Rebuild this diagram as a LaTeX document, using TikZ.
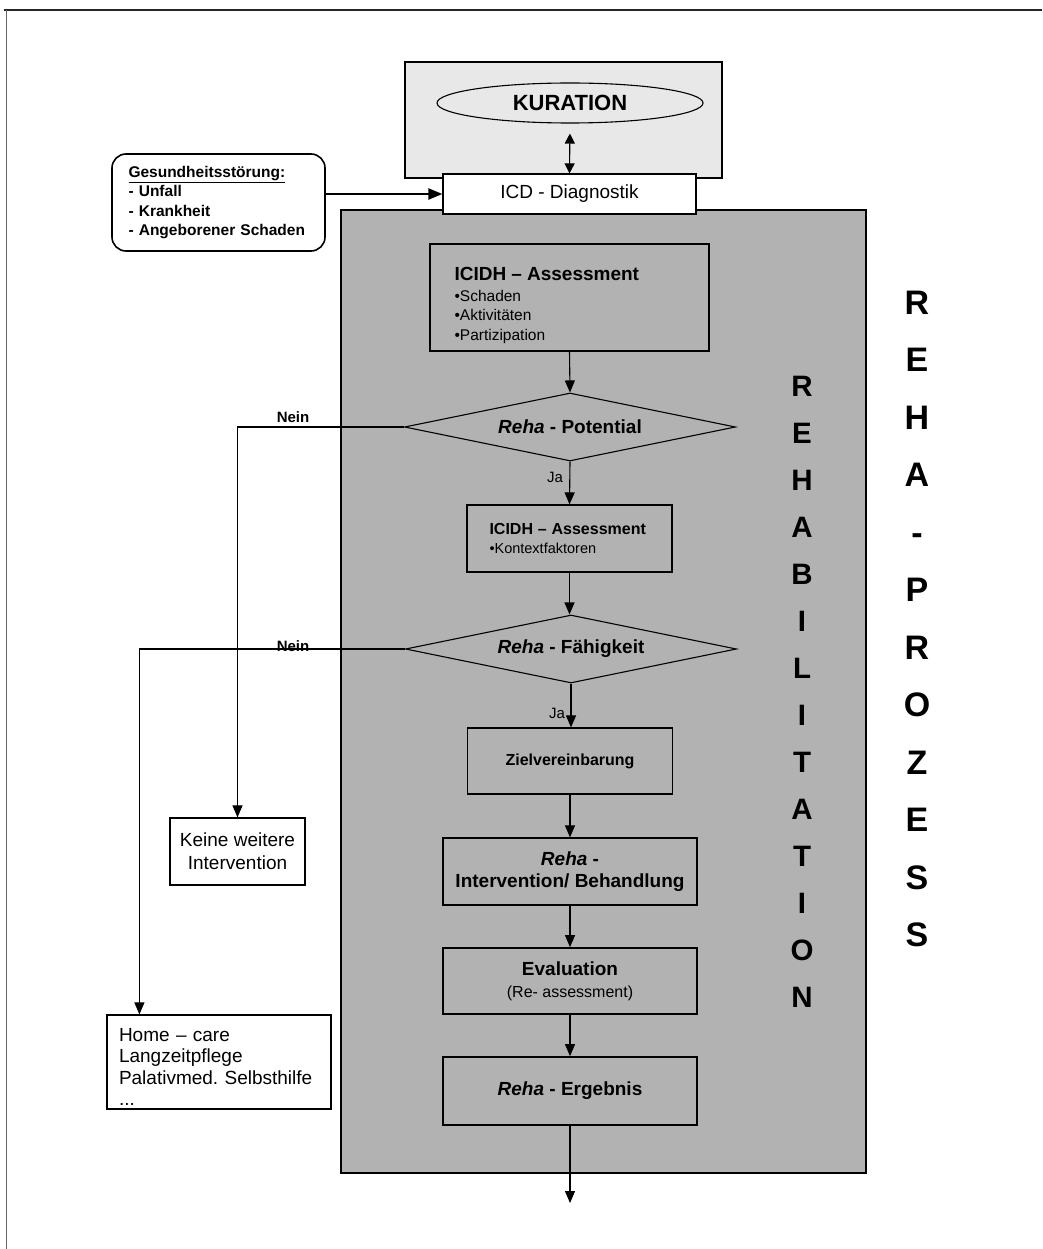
\documentclass[tikz,border=0pt]{standalone}
\usepackage{fontspec}
\setmainfont{Liberation Sans}
\usetikzlibrary{shapes.geometric,arrows.meta}
\definecolor{rehagray}{RGB}{178,178,178}
\definecolor{kurgray}{RGB}{232,232,232}
\newcommand{\fsz}[2]{\fontsize{#1}{#2}\selectfont}
\frenchspacing
\hyphenpenalty=10000
\begin{document}
\begin{tikzpicture}[x=1pt,y=-1pt,
  box/.style={draw, line width=1.2pt, inner sep=0pt, align=center},
  graybox/.style={box, fill=rehagray},
  whitebox/.style={box, fill=white},
  decision/.style={draw, line width=1.1pt, fill=rehagray, shape=diamond, aspect=4.87,
    minimum width=331pt, minimum height=68pt, inner sep=0pt, font=\fsz{19}{22}\bfseries},
  flow/.style={line width=1.1pt, -{Triangle[width=10pt,length=12pt]}},
  lbl/.style={inner sep=0pt, font=\fsz{15}{18}}
]
\useasboundingbox (0,0) rectangle (1042,1249);

% page frame
\draw[line width=1.8pt, black!85] (4,10) -- (1042,10);
\draw[line width=0.9pt, black!60] (6,1249) -- (6,10);

% curative area and rehabilitation area
\draw[line width=1.2pt, fill=kurgray] (405,62) rectangle (722,178);
\draw[line width=1.2pt, fill=rehagray] (341,210) rectangle (866,1173);

% curation
\node[draw, line width=1.1pt, fill=kurgray, ellipse, minimum width=266pt, minimum height=40pt,
      inner sep=0pt, font=\fsz{22}{24}\bfseries] (kur) at (570,103) {KURATION};
\node[whitebox, minimum width=253pt, minimum height=40pt, font=\fsz{19}{22}] (icd) at (569.5,194) {ICD - Diagnostik};

% health disorder
\node[draw, line width=1.6pt, rounded corners=14pt, fill=white, text width=180pt, inner xsep=16.5pt,
      minimum height=97pt, align=left, font=\fsz{15.5}{19.3}\bfseries] (ges) at (218.5,202.5)
  {\underline{Gesundheitsstörung:}\\- Unfall\\- Krankheit\\- Angeborener Schaden};

% main flow
\node[graybox, minimum width=279pt, minimum height=107pt, text width=230pt, align=left,
      font=\fsz{15.5}{19.7}] (a1) at (569.5,297.5)
  {\rule{0pt}{29pt}{\fsz{19}{20}\bfseries ICIDH – Assessment}\\[1.3pt]•Schaden\\•Aktivitäten\\•Partizipation};
\node[decision] (d1) at (570,427) {\textit{Reha} - Potential};
\node[graybox, minimum width=205pt, minimum height=67pt, text width=160pt, align=left,
      font=\fsz{14.5}{19}] (a2) at (569.5,538.5)
  {{\fsz{16}{18}\bfseries ICIDH – Assessment}\\•Kontextfaktoren};
\node[decision] (d2) at (571,649) {\textit{Reha} - Fähigkeit};
\node[graybox, minimum width=205pt, minimum height=66pt, font=\fsz{16}{18}\bfseries] (ziel) at (570,761) {Zielvereinbarung};
\node[graybox, minimum width=254pt, minimum height=67pt, font=\fsz{19}{22.5}\bfseries] (inter) at (570,871.5)
  {\textit{Reha} -\\Intervention/ Behandlung};
\node[graybox, line width=1.7pt, minimum width=254pt, minimum height=66pt, font=\fsz{19}{22}\bfseries] (eval) at (570,981)
  {Evaluation\\{\fsz{16}{18}\mdseries (Re- assessment)}};
\node[graybox, line width=1.7pt, minimum width=254pt, minimum height=68pt, font=\fsz{19}{22}\bfseries] (erg) at (570,1091)
  {\textit{Reha} - Ergebnis};
\coordinate (out) at (570,1203);

% side outcomes
\node[whitebox, minimum width=135pt, minimum height=67pt, font=\fsz{19}{23}] (keine) at (237.5,851.5)
  {Keine weitere\\Intervention};
\node[whitebox, minimum width=224pt, minimum height=94pt, align=left, text width=200pt,
      font=\fsz{19}{21.3}] (home) at (219,1062)
  {\rule{0pt}{23pt}Home – care\\Langzeitpflege\\Palativmed. Selbsthilfe\\...};

% labels
\node[lbl, font=\fsz{15}{18}\bfseries] (nein1) at (293,417) {Nein};
\node[lbl, font=\fsz{15}{18}\bfseries] (nein2) at (293,646) {Nein};
\node[lbl] (ja1) at (555,477) {Ja};
\node[lbl] (ja2) at (557,713) {Ja};

% vertical titles
\node[inner sep=0pt, align=center, font=\fsz{29.5}{47}\bfseries] (rehab) at (802,691.5)
  {R\\E\\H\\A\\B\\I\\L\\I\\T\\A\\T\\I\\O\\N};
\node[inner sep=0pt, align=center, font=\fsz{34}{57.5}\bfseries] (prozess) at (917,619)
  {R\\E\\H\\A\\-\\P\\R\\O\\Z\\E\\S\\S};

% connectors
\draw[line width=1.1pt, {Triangle[width=10pt,length=10pt]}-{Triangle[width=10pt,length=10pt]}, shorten <=10pt]
  (kur.south) -- (icd.north);
\draw[line width=2.2pt, -{Triangle[width=11pt,length=14pt]}] (ges.east |- icd.west) -- (icd.west);
\draw[flow] (a1.south) -- (d1.north);
\draw[flow] (d1.south) -- (a2.north);
\draw[flow] (a2.south) -- (a2.south |- d2.north);
\draw[flow] (d2.south) -- (d2.south |- ziel.north);
\draw[flow] (ziel.south) -- (inter.north);
\draw[flow] (inter.south) -- (eval.north);
\draw[flow] (eval.south) -- (erg.north);
\draw[flow] (erg.south) -- (out);
\draw[flow] (d1.west) -| (keine.north);
\draw[flow] (d2.west) -| ([xshift=33pt]home.north west);
\end{tikzpicture}
\end{document}
